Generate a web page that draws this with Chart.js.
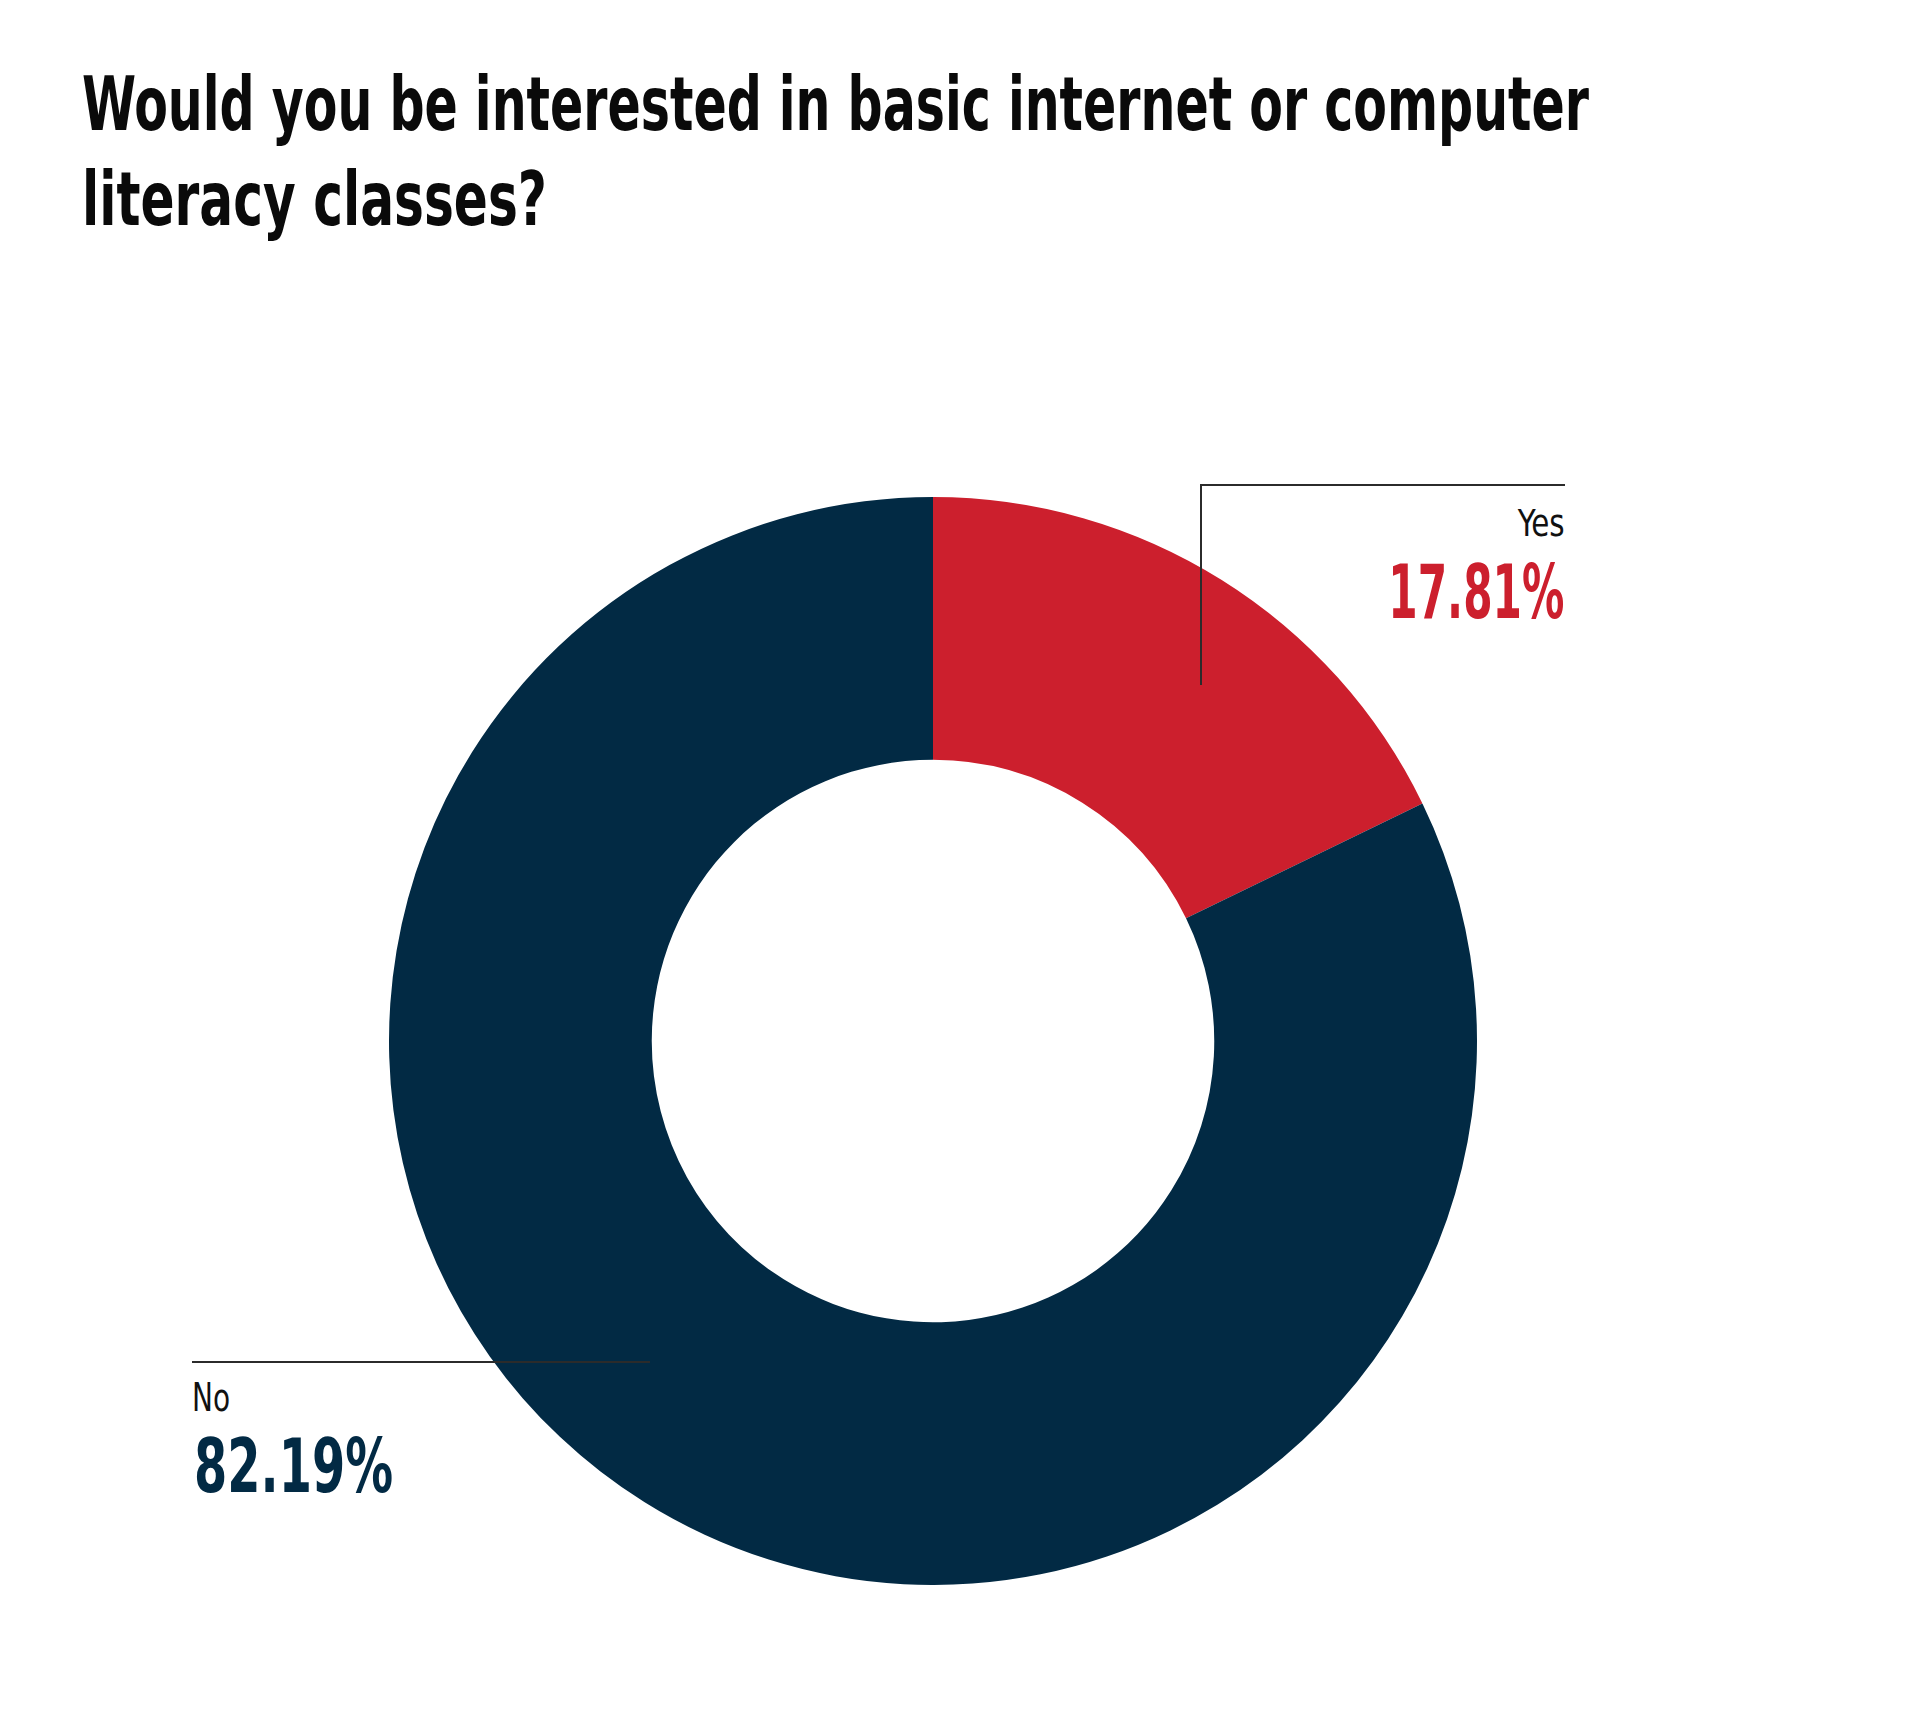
<!DOCTYPE html>
<html>
<head>
<meta charset="utf-8">
<script src="https://cdn.jsdelivr.net/npm/chart.js@4.4.1/dist/chart.umd.min.js"></script>
<style>
  html, body { margin: 0; padding: 0; background: #fff; width: 1920px; height: 1724px; overflow: hidden; }
  body { position: relative; font-family: "Liberation Sans Narrow", "DejaVu Sans Condensed", "Liberation Sans", sans-serif; }
  .txt { position: absolute; white-space: nowrap; line-height: 1; display: inline-block; }
  .title { font-size: 75px; font-weight: bold; color: #0a0a0a; left: 82px; transform-origin: left top; }
  .lbl { color: #111; font-weight: normal; }
  .pct { font-weight: bold; }
  .rule { position: absolute; background: #2b2b2b; z-index: 5; }
  #chartBox { position: absolute; left: 389px; top: 497px; width: 1088px; height: 1088px; }
</style>
</head>
<body>
<div class="txt title" id="t1" data-w="1507" style="top:67px">Would you be interested in basic internet or computer</div>
<div class="txt title" id="t2" data-w="465" style="top:162px">literacy classes?</div>

<div id="chartBox"><canvas id="donut"></canvas></div>

<!-- leader lines -->
<div class="rule" style="left:1201px; top:484px; width:364px; height:2px"></div>
<div class="rule" style="left:1200px; top:484px; width:2px; height:201px"></div>
<div class="rule" style="left:192px; top:1361px; width:458px; height:2px"></div>

<div class="txt lbl" id="yesLbl" data-w="47" data-r="1565" style="top:504px; font-size:38px"></div>
<div class="txt pct" id="yesPct" data-w="176" data-r="1564" style="top:555px; font-size:74px"></div>
<div class="txt lbl" id="noLbl" data-w="38" style="left:192px; top:1378px; font-size:39px"></div>
<div class="txt pct" id="noPct" data-w="199" style="left:194px; top:1429px; font-size:75px"></div>

<script>
const answers = ['Yes', 'No'];
const shares = [17.81, 82.19];
const sliceColors = ['#cc1f2d', '#022a44'];

const ctx = document.getElementById('donut').getContext('2d');
new Chart(ctx, {
    type: 'doughnut',
    data: {
        labels: answers,
        datasets: [{ data: shares, backgroundColor: sliceColors, borderWidth: 0 }]
    },
    options: {
        responsive: true, maintainAspectRatio: false, animation: false,
        cutout: '51.7%', events: [],
        layout: { padding: 0 },
        plugins: { legend: { display: false }, tooltip: { enabled: false } }
    }
});

// labels from the data
document.getElementById('yesLbl').innerText = answers[0];
document.getElementById('yesPct').innerText = shares[0].toFixed(2) + '%';
document.getElementById('yesPct').style.color = sliceColors[0];
document.getElementById('noLbl').innerText = answers[1];
document.getElementById('noPct').innerText = shares[1].toFixed(2) + '%';
document.getElementById('noPct').style.color = sliceColors[1];

// squeeze text to the condensed widths of the original
document.querySelectorAll('.txt').forEach(el => {
    const w = el.getBoundingClientRect().width;
    const target = parseFloat(el.dataset.w);
    const s = target / w;
    if (el.dataset.r) {
        el.style.left = (parseFloat(el.dataset.r) - w) + 'px';
        el.style.transformOrigin = 'right top';
    } else {
        el.style.transformOrigin = 'left top';
    }
    el.style.transform = 'scaleX(' + s + ')';
});
</script>
</body>
</html>
